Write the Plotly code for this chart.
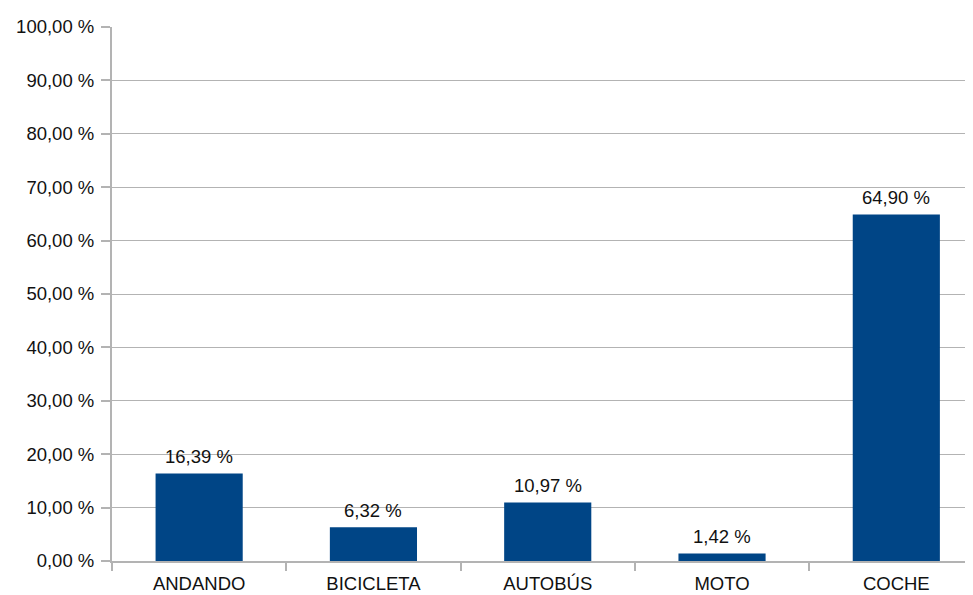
import plotly.graph_objects as go

categories = ["ANDANDO", "BICICLETA", "AUTOBÚS", "MOTO", "COCHE"]
values = [16.39, 6.32, 10.97, 1.42, 64.90]
y_ticks = [0, 10, 20, 30, 40, 50, 60, 70, 80, 90, 100]


def fmt(v):
    return f"{v:.2f}".replace(".", ",") + " %"


FONT = dict(family="Liberation Sans", size=18.5, color="#111111")

fig = go.Figure(
    go.Bar(
        x=categories,
        y=values,
        marker=dict(color="#004586", line=dict(width=0)),
        width=0.5,
        hoverinfo="skip",
    )
)

for c, v in zip(categories, values):
    fig.add_annotation(
        x=c, y=v, text=fmt(v), showarrow=False, yanchor="bottom",
        yshift=4, font=FONT,
    )

fig.update_layout(
    width=973,
    height=595,
    margin=dict(l=102, r=8, t=17, b=42),
    paper_bgcolor="white",
    plot_bgcolor="white",
    showlegend=False,
    font=FONT,
    xaxis=dict(
        range=[-0.5, 4.44],
        showline=True,
        linecolor="#b3b3b3",
        linewidth=1.5,
        ticks="outside",
        tickson="boundaries",
        ticklen=8,
        tickcolor="#b3b3b3",
        tickwidth=1.5,
        ticklabelstandoff=5,
        showgrid=False,
        tickfont=FONT,
    ),
    yaxis=dict(
        range=[0, 100],
        tickvals=y_ticks,
        ticktext=[fmt(v) for v in y_ticks],
        showline=True,
        linecolor="#b3b3b3",
        linewidth=2,
        ticks="outside",
        ticklen=9,
        tickcolor="#b3b3b3",
        tickwidth=1.5,
        ticklabelstandoff=3,
        showgrid=True,
        gridcolor="#b3b3b3",
        gridwidth=1,
        zeroline=False,
        tickfont=FONT,
    ),
)

fig.write_html("out.html")
